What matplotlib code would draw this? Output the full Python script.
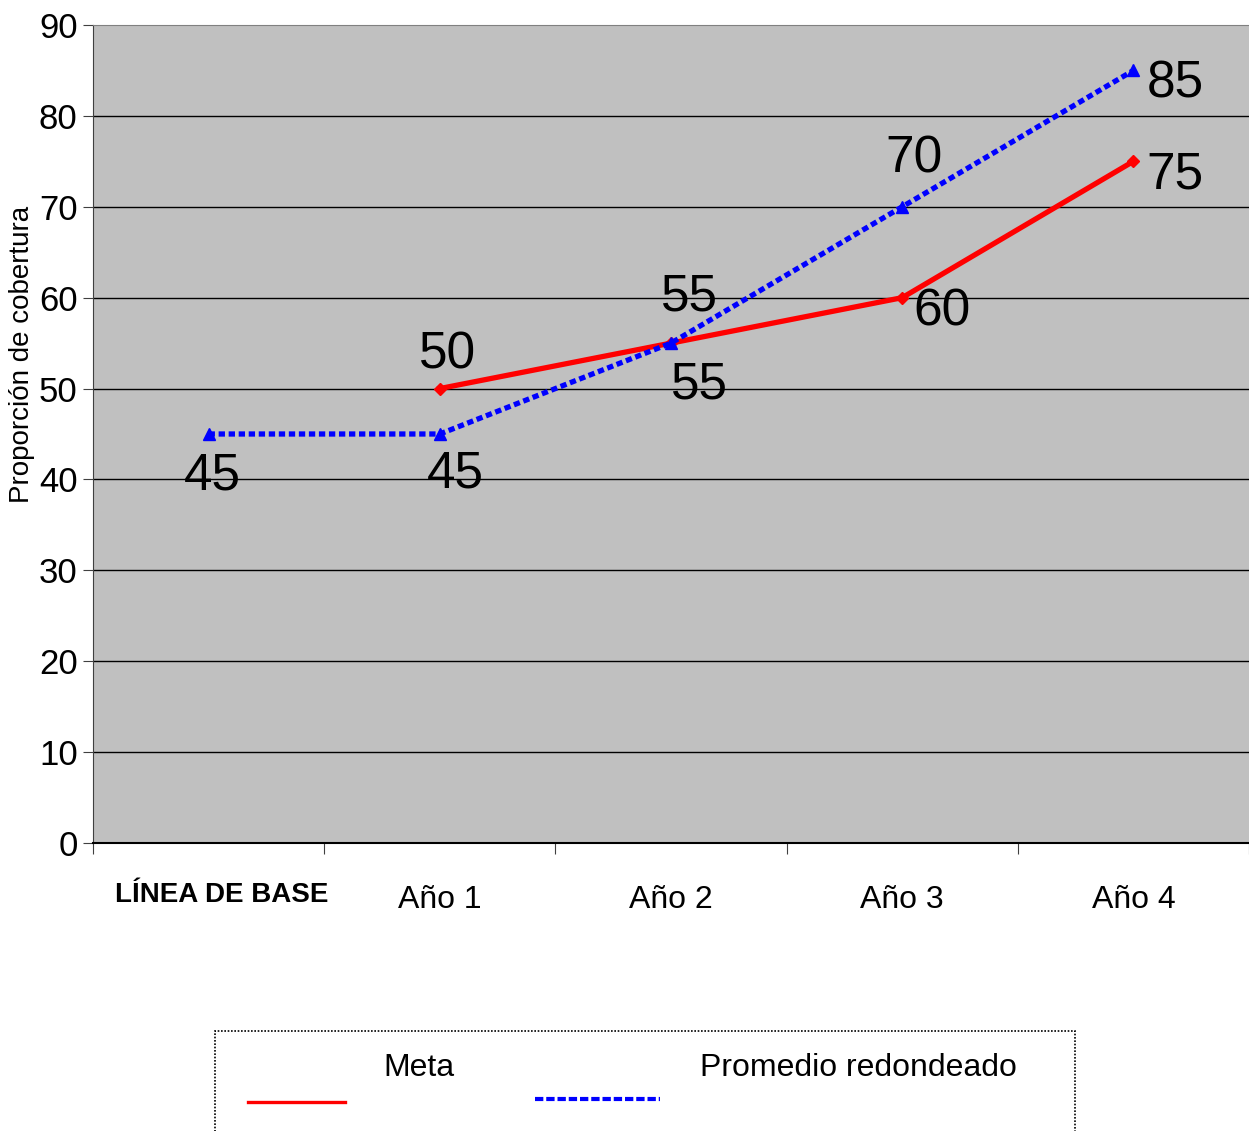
import numpy as np
import matplotlib
matplotlib.use("Agg")
import matplotlib.pyplot as plt
from matplotlib.lines import Line2D
from matplotlib.patches import Rectangle

plt.rcParams['font.family'] = ['Liberation Sans', 'DejaVu Sans']

# datos
categorias = ["LÍNEA DE BASE", "Año 1", "Año 2", "Año 3", "Año 4"]
meta = [np.nan, 50, 55, 60, 75]
promedio = [45, 45, 55, 70, 85]
y_ticks = [0, 10, 20, 30, 40, 50, 60, 70, 80, 90]

# posición de las etiquetas de datos (desplazamiento en píxeles)
off_meta = [None, (8, 34), (28, -42), (40, -14), (42, -14)]
off_prom = [(4, -42), (16, -40), (18, 46), (12, 48), (42, -14)]

fig = plt.figure(figsize=(12.49, 11.31), dpi=100)
ax = fig.add_axes([93 / 1249, 1 - 843 / 1131, 1 - 93 / 1249, (843 - 25) / 1131])
ax.set_facecolor('#C0C0C0')

x = np.arange(len(categorias))
ax.plot(x, meta, color='#FF0000', lw=3.8, marker='D', ms=6, zorder=3)
ax.plot(x, promedio, color='#0000FF', lw=3.8, linestyle=(0, (1.2, 0.7)),
        marker='^', ms=8, zorder=4)

for i in range(len(x)):
    if not np.isnan(meta[i]):
        ax.annotate(str(int(meta[i])), (x[i], meta[i]), xytext=off_meta[i],
                    textcoords='offset pixels', ha='center', va='center',
                    fontsize=37, zorder=5)
    ax.annotate(str(promedio[i]), (x[i], promedio[i]), xytext=off_prom[i],
                textcoords='offset pixels', ha='center', va='center',
                fontsize=37, zorder=5)

ax.set_xlim(-0.5, len(categorias) - 0.5)
ax.set_ylim(0, 90)
ax.set_yticks(y_ticks)
ax.set_yticklabels([str(v) for v in y_ticks], fontsize=25)
for v in y_ticks[1:-1]:
    ax.axhline(v, color='black', lw=1, zorder=1)

ax.set_xticks(np.arange(len(categorias) + 1) - 0.5)
ax.set_xticklabels([])
ax.set_xticks(x, minor=True)
ax.set_xticklabels([""] + categorias[1:], minor=True, fontsize=23)
ax.tick_params(axis='x', which='minor', length=0, pad=30)
ax.tick_params(axis='x', which='major', length=8, color='#404040')
ax.tick_params(axis='y', length=7, pad=4, color='#404040')
# primera categoría en negrita, algo corrida a la derecha como en el original
ax.annotate(categorias[0], (x[0], 0), xytext=(13, -52), textcoords='offset pixels',
            xycoords=('data', 'axes fraction'), ha='center', va='center',
            fontsize=20, fontweight='bold', annotation_clip=False)

ax.set_ylabel("Proporción de cobertura", fontsize=20)
ax.yaxis.set_label_coords(-0.05, 0.597)

ax.spines['right'].set_visible(False)
ax.spines['top'].set_color('#808080')
ax.spines['left'].set_color('#404040')
ax.spines['bottom'].set_color('black')
ax.spines['bottom'].set_linewidth(1.5)

# leyenda manual
W, H = 1249, 1131
fig.add_artist(Rectangle((215 / W, -0.01), (1075 - 215) / W, (1131 - 1031) / H + 0.01,
                         transform=fig.transFigure, fill=False, ec='black',
                         lw=1.2, ls=(0, (1, 1))))
fig.add_artist(Line2D([248 / W, 345 / W], [1 - 1102 / H] * 2, color='#FF0000', lw=2.4))
fig.add_artist(Line2D([535 / W, 660 / W], [1 - 1099 / H] * 2, color='#0000FF', lw=3,
                      ls=(0, (2, 0.7))))
fig.text(383 / W, 1 - 1068 / H, "Meta", fontsize=23, va='center')
fig.text(700 / W, 1 - 1068 / H, "Promedio redondeado", fontsize=23, va='center')

fig.savefig("out.png", dpi=100)
